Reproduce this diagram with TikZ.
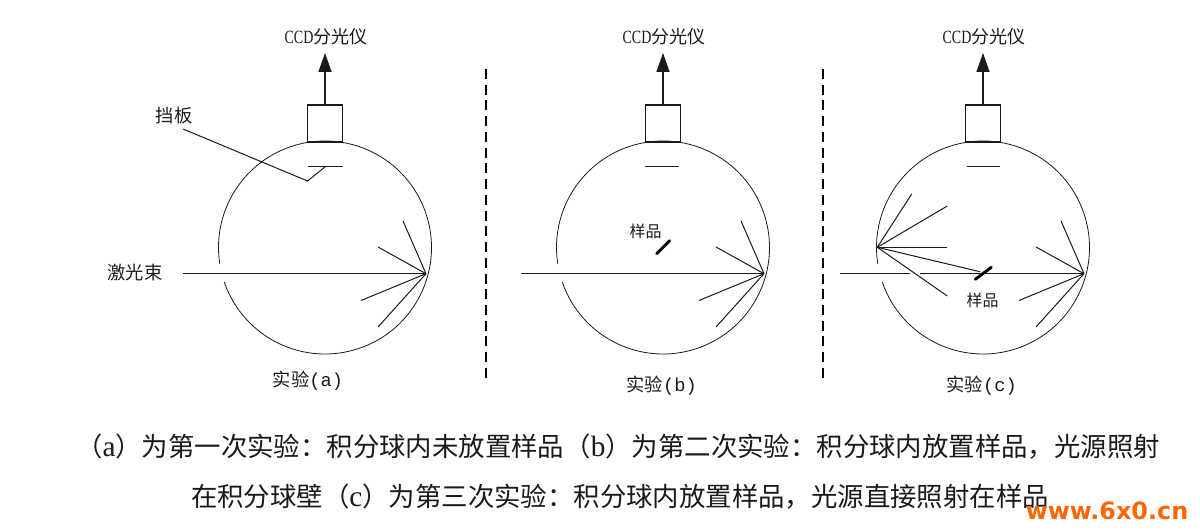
\documentclass[tikz,border=0pt]{standalone}
\usepackage{fontspec}
\setmainfont{Noto Sans CJK SC}
\newfontfamily\latmono{Liberation Mono}
\newfontfamily\latserif{Liberation Serif}
\newfontfamily\latnarrow[FakeStretch=0.75]{Liberation Serif}
\newfontfamily\markfont{DejaVu Sans}[BoldFont={DejaVu Sans Bold}]
\usetikzlibrary{arrows.meta}
\definecolor{ink}{HTML}{1A1A1A}
\definecolor{markc}{HTML}{FF6600}
\tikzset{
  ball/.style={draw=ink, line width=0.6pt},
  port/.style={draw=ink, line width=0.9pt, inner sep=0pt, minimum width=26.6pt, minimum height=27.75pt},
  outlet/.style={draw=ink, line width=1.1pt, -{Triangle[length=14.25pt,width=9.75pt]}},
  ray/.style={draw=ink, line width=0.75pt},
  stopper/.style={draw=ink, line width=0.75pt},
  sample/.style={draw=black, line width=2.2pt, line cap=round},
  sep/.style={draw=black, line width=1.3pt, dash pattern=on 7.5pt off 4.3pt},
  lab/.style={text=ink, font=\fontsize{13.7pt}{16pt}\selectfont, inner sep=0pt},
  labs/.style={text=ink, font=\fontsize{12pt}{14pt}\selectfont, inner sep=0pt},
  captext/.style={text=ink, font=\fontsize{19.8pt}{23pt}\selectfont, inner sep=0pt},
}

\begin{document}
\begin{tikzpicture}[x=0.75pt,y=0.75pt]
  \useasboundingbox (0,0) rectangle (1200,531);
  \def\rball{79.875pt}

  % the three spheres
  \foreach \dx/\tag/\sl/\sr in {0/a/307.5/343, 338/b/307/341, 658/c/308.7/342}{
    \begin{scope}[shift={(\dx,0)},name prefix=\tag-]
      \coordinate (centre) at (325,283.5);
      \coordinate (hit) at (426,257.3);
      \draw[ball] (centre) ++(199:\rball) arc[start angle=199,end angle=549,radius=\rball];
      \node[port] (box) at (325,407.5) {};
      \node[text=ink,font=\fontsize{13.5pt}{16pt}\selectfont,inner sep=0pt] (ccd) at (326,494) {{\latnarrow\fontsize{14pt}{16pt}\selectfont CCD}分光仪};
      \coordinate (tip) at (325,478);
      \draw[outlet] (box.north) -- (tip);
      \coordinate (sl) at (\sl,364);
      \coordinate (sr) at (\sr,364);
      \draw[stopper] (sl) -- (sr);
      \foreach \i/\px/\py in {1/403/310,2/378/284,3/361/230.5,4/378/204}{
        \coordinate (ray\i) at (\px,\py);
        \draw[ray] (hit) -- (ray\i);
      }
    \end{scope}
  }

  % laser beams
  \coordinate (a-in) at (183,257.3);
  \coordinate (b-in) at (521,257.3);
  \coordinate (c-in) at (840,257.3);
  \coordinate (c-gapl) at (910,257.3);
  \coordinate (c-gapr) at (920,257.3);
  \draw[ray] (a-in) -- (a-hit);
  \draw[ray] (b-in) -- (b-hit);
  \draw[ray] (c-in) -- (c-gapl) (c-gapr) -- (c-hit);

  % baffle leader
  \coordinate (lead1) at (183,402);
  \coordinate (lead2) at (307.5,350);
  \coordinate (lead3) at (325,364);
  \draw[ray] (lead1) -- (lead2) -- (lead3);
  \node[lab] (baffle) at (174,415.3) {挡板};
  \node[lab] (laser) at (135,258.3) {激光束};

  % samples
  \coordinate (b-s1) at (656.7,277.3);
  \coordinate (b-s2) at (669.7,290.3);
  \draw[sample] (b-s1) -- (b-s2);
  \node[labs] (b-sample) at (645.7,300) {样品};
  \coordinate (c-s1) at (975.3,251.7);
  \coordinate (c-s2) at (991.3,263.7);
  \draw[sample] (c-s1) -- (c-s2);
  \node[labs] (c-sample) at (982.7,231) {样品};

  % scatter from the wall in (c)
  \coordinate (c-wall) at (877.3,283.7);
  \foreach \i/\px/\py in {1/911.7/337,2/947.3/325,3/947.3/283.7,4/980/259.3,5/947.3/235}{
    \coordinate (c-back\i) at (\px,\py);
    \draw[ray] (c-wall) -- (c-back\i);
  }

  % separators
  \coordinate (sep1t) at (486,462);
  \coordinate (sep1b) at (486,149);
  \coordinate (sep2t) at (823,462);
  \coordinate (sep2b) at (823,149);
  \draw[sep] (sep1t) -- (sep1b);
  \draw[sep] (sep2t) -- (sep2b);

  % captions
  \node[lab] (a-name) at (308,150.3) {实验{\latmono\fontsize{14pt}{16pt}\selectfont(a)}};
  \node[lab] (b-name) at (661.7,145.3) {实验{\latmono\fontsize{14pt}{16pt}\selectfont(b)}};
  \node[lab] (c-name) at (981.7,145.3) {实验{\latmono\fontsize{14pt}{16pt}\selectfont(c)}};
  \node[captext] (line1) at (618,84) {（{\latserif\fontsize{22pt}{23pt}\selectfont a}）为第一次实验：积分球内未放置样品（{\latserif\fontsize{22pt}{23pt}\selectfont b}）为第二次实验：积分球内放置样品，光源照射};
  \node[captext] (line2) at (620,34) {在积分球壁（{\latserif\fontsize{22pt}{23pt}\selectfont c}）为第三次实验：积分球内放置样品，光源直接照射在样品};
  \node[text=markc,font=\markfont\bfseries\fontsize{17.9pt}{20pt}\selectfont,inner sep=0pt] (mark) at (1107,20) {www.6x0.cn};
\end{tikzpicture}
\end{document}
